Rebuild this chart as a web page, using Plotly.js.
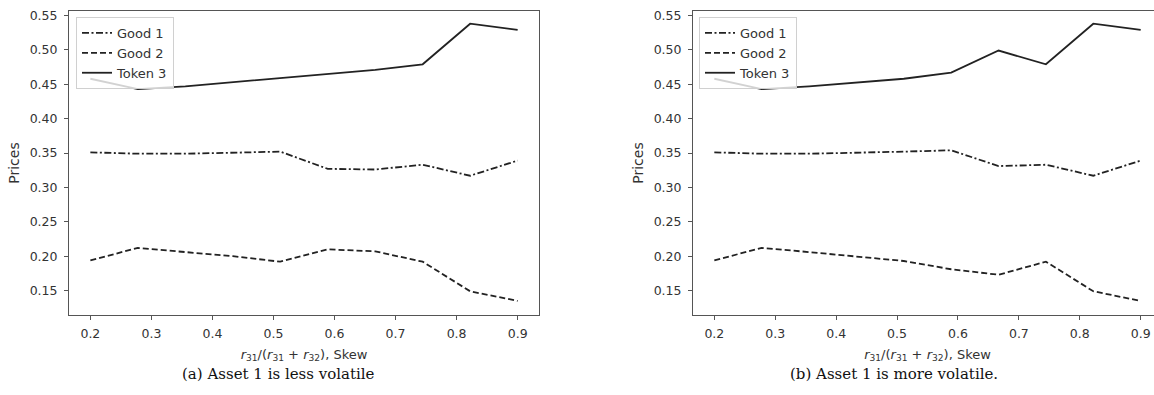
<!DOCTYPE html>
<html>
<head>
<meta charset="utf-8">
<script src="https://cdn.plot.ly/plotly-3.0.1.min.js"></script>
<style>
html,body{margin:0;padding:0;overflow:hidden;background:#fff;}
#plot{width:1165px;height:395px;}
</style>
</head>
<body>
<div id="plot"></div>
<script>
// Skew values (x axis)
const skew = [0.2, 0.2778, 0.3556, 0.4333, 0.5111, 0.5889, 0.6667, 0.7444, 0.8222, 0.9];

// (a) Asset 1 is less volatile
const good1A  = [0.351, 0.349, 0.349, 0.350, 0.352, 0.327, 0.326, 0.333, 0.317, 0.339];
const good2A  = [0.194, 0.212, 0.206, 0.200, 0.192, 0.210, 0.207, 0.192, 0.149, 0.135];
const token3A = [0.458, 0.443, 0.447, 0.453, 0.458, 0.464, 0.471, 0.479, 0.538, 0.529];

// (b) Asset 1 is more volatile
const good1B  = [0.351, 0.349, 0.349, 0.350, 0.352, 0.354, 0.331, 0.333, 0.317, 0.339];
const good2B  = [0.194, 0.212, 0.206, 0.200, 0.193, 0.181, 0.173, 0.192, 0.149, 0.135];
const token3B = [0.458, 0.443, 0.447, 0.452, 0.458, 0.467, 0.499, 0.479, 0.538, 0.529];

const seriesNames = ["Good 1", "Good 2", "Token 3"];
const captions = ["(a) Asset 1 is less volatile", "(b) Asset 1 is more volatile."];
const xTitle = "<i>r</i><sub>31</sub>/(<i>r</i><sub>31</sub> + <i>r</i><sub>32</sub>), Skew";
const yTitle = "Prices";

const W = 1165, H = 395;
const lineCol = "#222";
const dashes = ["7px,2.5px,2px,2.5px", "6px,3px", "solid"];

function mk(y, i, xa, ya, leg) {
  return {x: skew, y: y, type: "scatter", mode: "lines", name: seriesNames[i],
          xaxis: xa, yaxis: ya, legend: leg,
          line: {color: lineCol, width: 1.8, dash: dashes[i]}};
}
const traces = [
  mk(good1A, 0, "x", "y", "legend"), mk(good2A, 1, "x", "y", "legend"), mk(token3A, 2, "x", "y", "legend"),
  mk(good1B, 0, "x2", "y2", "legend2"), mk(good2B, 1, "x2", "y2", "legend2"), mk(token3B, 2, "x2", "y2", "legend2")
];

const font = {family: "DejaVu Sans", size: 12, color: "#333"};
function xax(d0, d1, anchor) {
  return {domain: [d0 / W, d1 / W], anchor: anchor, range: [0.165, 0.935], dtick: 0.1, tick0: 0.2,
          tickformat: ".1f", showline: true, mirror: true, linecolor: "#555", linewidth: 1,
          ticks: "outside", ticklen: 4, tickcolor: "#555", showgrid: false, zeroline: false,
          ticklabelstandoff: 3,
          tickfont: {family: "DejaVu Sans", size: 12.5, color: "#333"},
          title: {text: xTitle, font: {family: "DejaVu Sans", size: 13, color: "#333"}, standoff: 9}};
}
function yax(anchor) {
  return {domain: [0, 1], anchor: anchor, range: [0.1145, 0.5565], dtick: 0.05, tick0: 0.15,
          tickformat: ".2f", showline: true, mirror: true, linecolor: "#555", linewidth: 1,
          ticks: "outside", ticklen: 4, tickcolor: "#555", showgrid: false, zeroline: false,
          ticklabelstandoff: 4,
          tickfont: {family: "DejaVu Sans", size: 12.5, color: "#333"},
          title: {text: yTitle, font: {family: "DejaVu Sans", size: 14, color: "#333"}, standoff: 6}};
}
function leg(xpx) {
  return {x: xpx / W, y: 1 - 6 / 304, xanchor: "left", yanchor: "top",
          bgcolor: "rgba(255,255,255,0.8)", bordercolor: "#d0d0d0", borderwidth: 1,
          font: {family: "DejaVu Sans", size: 13, color: "#333"}, tracegroupgap: 0,
          itemwidth: 30};
}
const layout = {
  width: W, height: H, margin: {l: 0, r: 0, t: 11, b: 80},
  paper_bgcolor: "#fff", plot_bgcolor: "#fff", font: font,
  showlegend: true,
  xaxis: xax(69, 539, "y"), yaxis: yax("x"),
  xaxis2: xax(693, 1162, "y2"), yaxis2: yax("x2"),
  legend: leg(76), legend2: leg(699),
  annotations: [
    {text: captions[0], xref: "paper", yref: "paper", x: 278 / W, y: -(374 - 315) / 304,
     xanchor: "center", yanchor: "middle", showarrow: false,
     font: {family: "DejaVu Serif", size: 15, color: "#111"}},
    {text: captions[1], xref: "paper", yref: "paper", x: 894 / W, y: -(374 - 315) / 304,
     xanchor: "center", yanchor: "middle", showarrow: false,
     font: {family: "DejaVu Serif", size: 15, color: "#111"}}
  ]
};
Plotly.newPlot("plot", traces, layout, {staticPlot: true, displayModeBar: false});
</script>
</body>
</html>
